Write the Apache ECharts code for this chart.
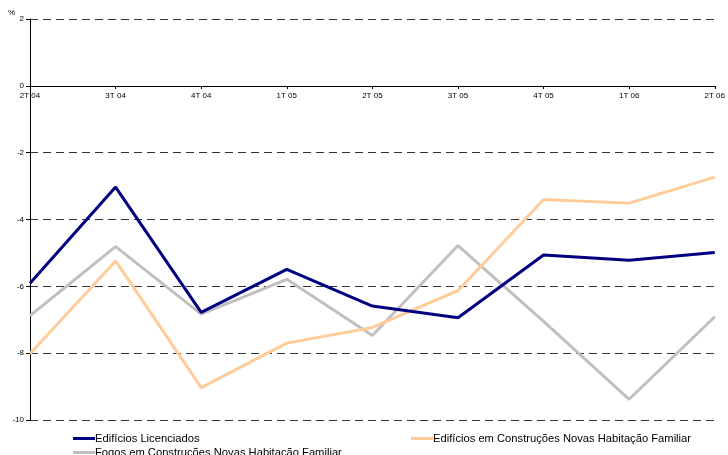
<!DOCTYPE html>
<html>
<head>
<meta charset="utf-8">
<script src="https://cdn.jsdelivr.net/npm/echarts@6/dist/echarts.min.js"></script>
<style>
  html, body { margin: 0; padding: 0; background: #fff; }
  #chart { width: 728px; height: 455px; }
</style>
</head>
<body>
<div id="chart"></div>
<script>
// trimestres
const quarters = ['2T 04', '3T 04', '4T 04', '1T 05', '2T 05', '3T 05', '4T 05', '1T 06', '2T 06'];

// variação (%)
const edificiosLicenciados = [-5.91, -3.03, -6.78, -5.49, -6.59, -6.94, -5.06, -5.22, -4.99];
const edificiosConstrucoes = [-8.02, -5.24, -9.03, -7.70, -7.23, -6.13, -3.40, -3.51, -2.73];
const fogosConstrucoes = [-6.88, -4.81, -6.83, -5.79, -7.47, -4.78, -7.05, -9.38, -6.91];

const seriesNames = [
  'Edifícios Licenciados',
  'Edifícios em Construções Novas Habitação Familiar',
  'Fogos em Construções Novas Habitação Familiar'
];

const chart = echarts.init(document.getElementById('chart'));

const legendBase = {
  icon: 'rect',
  padding: 0,
  itemWidth: 22,
  itemHeight: 3,
  itemGap: 0,
  textStyle: { fontFamily: 'Liberation Sans, Arial', fontSize: 11.2, color: '#000', padding: [0, 0, 0, -5] }
};

chart.setOption({
  animation: false,
  title: {
    text: '%',
    left: 8,
    top: 9,
    padding: 0,
    textStyle: { fontFamily: 'Liberation Sans, Arial', fontSize: 8, fontWeight: 'normal', color: '#000' }
  },
  grid: { left: 30, right: 13, top: 19, bottom: 35, containLabel: false },
  legend: [
    Object.assign({ left: 73, top: 433, data: [seriesNames[0]] }, legendBase),
    Object.assign({ left: 411, top: 433, data: [seriesNames[1]] }, legendBase),
    Object.assign({ left: 73, top: 447, data: [seriesNames[2]] }, legendBase)
  ],
  xAxis: {
    type: 'category',
    data: quarters,
    boundaryGap: false,
    // eixo desenhado na linha do zero
    offset: -334,
    axisLine: { onZero: false, lineStyle: { color: '#000', width: 1 } },
    axisTick: { show: true, length: 3, inside: false, lineStyle: { color: '#000' } },
    axisLabel: { fontFamily: 'Liberation Sans, Arial', fontSize: 8, color: '#000', margin: 6 },
    splitLine: { show: false }
  },
  yAxis: {
    type: 'value',
    min: -10,
    max: 2,
    interval: 2,
    axisLine: { show: true, lineStyle: { color: '#000', width: 1 } },
    axisTick: { show: true, length: 4, lineStyle: { color: '#000' } },
    axisLabel: { fontFamily: 'Liberation Sans, Arial', fontSize: 8, color: '#000', margin: 6 },
    splitLine: { show: true, lineStyle: { color: '#333', width: 1, type: [8, 5] } }
  },
  series: [
    {
      name: seriesNames[0],
      type: 'line',
      data: edificiosLicenciados,
      symbol: 'none',
      z: 4,
      lineStyle: { color: '#000080', width: 3 },
      itemStyle: { color: '#000080' }
    },
    {
      name: seriesNames[1],
      type: 'line',
      data: edificiosConstrucoes,
      symbol: 'none',
      z: 3,
      lineStyle: { color: '#FFCC99', width: 3 },
      itemStyle: { color: '#FFCC99' }
    },
    {
      name: seriesNames[2],
      type: 'line',
      data: fogosConstrucoes,
      symbol: 'none',
      z: 2,
      lineStyle: { color: '#C0C0C0', width: 3 },
      itemStyle: { color: '#C0C0C0' }
    }
  ]
});
</script>
</body>
</html>
